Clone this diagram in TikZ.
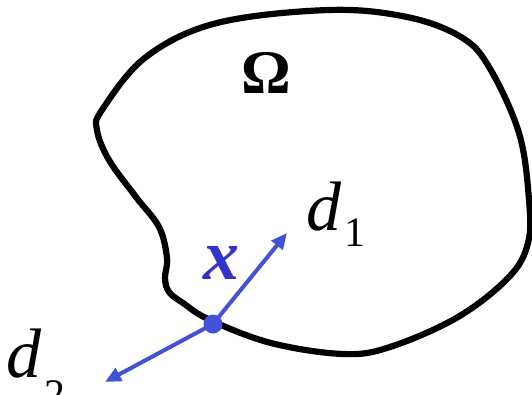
\documentclass[tikz,border=0pt]{standalone}
\usepackage{fontspec}
\setmainfont{Liberation Serif}
\usepackage{xcolor}
\usepackage{tikz}
\usetikzlibrary{arrows.meta}
\definecolor{dirblue}{RGB}{66,82,214}
\definecolor{ptblue}{RGB}{51,51,204}

\begin{document}
\begin{tikzpicture}[x=1pt, y=-1pt, line cap=round, line join=round,
    dirarrow/.style={dirblue, line width=4pt, -{Triangle[length=16pt,width=14pt]}},
    lbl/.style={inner sep=0pt, anchor=base west}]
  \useasboundingbox (0,0) rectangle (532,395);
  % boundary of Omega
  \draw[line width=6.2pt] plot[smooth cycle, tension=0.6] coordinates {
    (329,10) (407,17) (461,37) (489,67) (519,133) (529,200) (528,243)
    (509,277) (458,317) (390,347) (343,354) (271,343) (210,320)
    (183,303) (169,292) (165,278) (167,258) (159,227) (136,197)
    (109,160) (97,130) (102,110) (146,57) (217,23)};
  % point and directions
  \node[circle, fill=dirblue, inner sep=0pt, minimum size=19pt] (pt) at (213,324) {};
  \coordinate (tip1) at (287,233);
  \coordinate (tip2) at (105,382);
  \draw[dirarrow] (pt.center) -- (tip1);
  \draw[dirarrow] (pt.center) -- (tip2);
  % labels
  \node[inner sep=0pt, anchor=base, font=\fontsize{62}{62}\selectfont\bfseries] (omega) at (266,94) {Ω};
  \node[lbl, font=\fontsize{72}{72}\selectfont\bfseries\itshape, text=ptblue] (xlab) at (203,279) {x};
  \node[lbl, font=\fontsize{70}{70}\selectfont\itshape] (dlab1) at (306,230)
    {d\kern3pt\lower17pt\hbox{\upshape\fontsize{42}{42}\selectfont 1}};
  \node[lbl, font=\fontsize{70}{70}\selectfont\itshape] (dlab2) at (6,377)
    {d\kern3pt\lower31pt\hbox{\upshape\fontsize{42}{42}\selectfont 2}};
\end{tikzpicture}
\end{document}
